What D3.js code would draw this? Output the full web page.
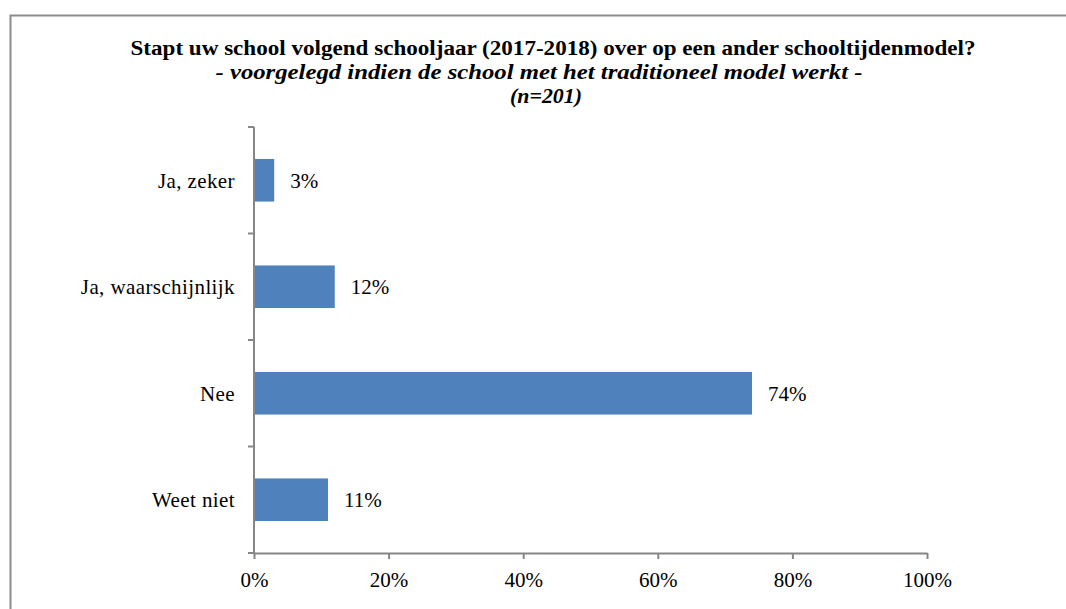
<!DOCTYPE html>
<html>
<head>
<meta charset="utf-8">
<script src="https://cdn.jsdelivr.net/npm/d3@7"></script>
<style>
  body { margin: 0; background: #fff; }
  svg { display: block; font-family: "Liberation Serif", "DejaVu Serif", serif; }
</style>
</head>
<body>
<div id="chart"></div>
<script>
// data
const categories = ["Ja, zeker", "Ja, waarschijnlijk", "Nee", "Weet niet"];
const values = [3, 12, 74, 11];
const tickValues = [0, 20, 40, 60, 80, 100];

const W = 1066, H = 609;
const margin = { left: 254, right: 139, top: 127, bottom: 56 };
const FONT = "Liberation Serif, serif";

const svg = d3.select("#chart").append("svg")
  .attr("width", W)
  .attr("height", H)
  .attr("font-family", FONT);

// outer frame (right and bottom run off the picture)
svg.append("path")
  .attr("d", `M10.5,${H} V15.5 H${W}`)
  .attr("fill", "none")
  .attr("stroke", "#8c8c8c")
  .attr("stroke-width", 2);

const x = d3.scaleLinear().domain([0, 100]).range([margin.left, W - margin.right]);
const y = d3.scaleBand().domain(categories).range([margin.top, H - margin.bottom]).paddingInner(0.6).paddingOuter(0.3);

// title, stretched to the width of the wider original font
const title = svg.append("g").attr("text-anchor", "middle").attr("fill", "#000");
title.append("text")
  .attr("x", 553).attr("y", 55)
  .attr("font-size", "20px").attr("font-weight", "bold")
  .attr("textLength", 845).attr("lengthAdjust", "spacingAndGlyphs")
  .text("Stapt uw school volgend schooljaar (2017-2018) over op een ander schooltijdenmodel?");
title.append("text")
  .attr("x", 539).attr("y", 79)
  .attr("font-size", "20px").attr("font-weight", "bold").attr("font-style", "italic")
  .attr("textLength", 647).attr("lengthAdjust", "spacingAndGlyphs")
  .text("- voorgelegd indien de school met het traditioneel model werkt -");
title.append("text")
  .attr("x", 546).attr("y", 103)
  .attr("font-size", "20px").attr("font-weight", "bold").attr("font-style", "italic")
  .attr("textLength", 72).attr("lengthAdjust", "spacingAndGlyphs")
  .text("(n=201)");

// bars
svg.append("g").selectAll("rect")
  .data(categories)
  .join("rect")
  .attr("x", x(0))
  .attr("y", d => y(d))
  .attr("width", (d, i) => x(values[i]) - x(0))
  .attr("height", y.bandwidth())
  .attr("fill", "#4f81bd");

// value labels
svg.append("g").selectAll("text")
  .data(categories)
  .join("text")
  .attr("x", (d, i) => x(values[i]) + 16)
  .attr("y", d => y(d) + y.bandwidth() / 2)
  .attr("dy", "0.35em")
  .attr("font-size", "21px")
  .attr("fill", "#000")
  .text((d, i) => values[i] + "%");

// x axis
const xAxis = svg.append("g")
  .attr("transform", `translate(0,${H - margin.bottom})`)
  .call(d3.axisBottom(x).tickValues(tickValues).tickFormat(d => d + "%").tickSize(6).tickSizeOuter(0));
xAxis.select(".domain").attr("stroke", "#868686").attr("stroke-width", 2);
xAxis.selectAll(".tick line").attr("stroke", "#868686").attr("stroke-width", 2);
xAxis.selectAll(".tick text")
  .attr("font-family", FONT)
  .attr("font-size", "21px")
  .attr("fill", "#000")
  .attr("dy", "1.2em");

// y axis: ticks sit on the category boundaries
const yAxisG = svg.append("g");
yAxisG.append("line")
  .attr("x1", margin.left).attr("x2", margin.left)
  .attr("y1", margin.top).attr("y2", H - margin.bottom)
  .attr("stroke", "#868686").attr("stroke-width", 2);
const bounds = d3.range(categories.length + 1).map(i => margin.top + i * (H - margin.bottom - margin.top) / categories.length);
yAxisG.selectAll("line.tick")
  .data(bounds)
  .join("line")
  .attr("class", "tick")
  .attr("x1", margin.left - 6).attr("x2", margin.left)
  .attr("y1", d => d).attr("y2", d => d)
  .attr("stroke", "#868686").attr("stroke-width", 2);
yAxisG.selectAll("text")
  .data(categories)
  .join("text")
  .attr("x", margin.left - 19)
  .attr("y", d => y(d) + y.bandwidth() / 2)
  .attr("dy", "0.35em")
  .attr("text-anchor", "end")
  .attr("font-size", "21px")
  .attr("letter-spacing", "0.4px")
  .attr("fill", "#000")
  .text(d => d);
</script>
</body>
</html>
